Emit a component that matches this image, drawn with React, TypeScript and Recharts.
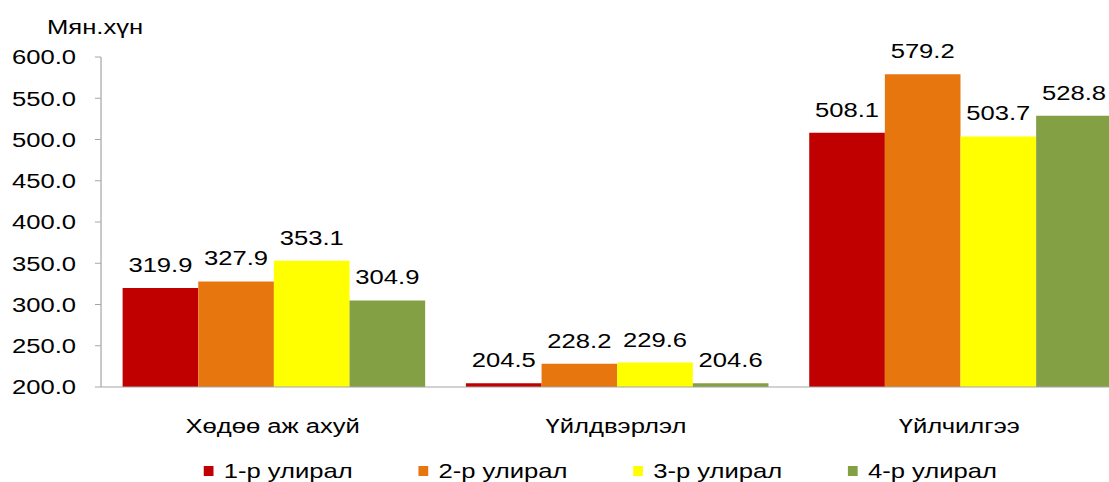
import { Bar, BarChart, LabelList, Legend, XAxis, YAxis } from "recharts";

const categories = ["Хөдөө аж ахуй", "Үйлдвэрлэл", "Үйлчилгээ"];
const seriesNames = ["1-р улирал", "2-р улирал", "3-р улирал", "4-р улирал"];
const q1 = [319.9, 204.5, 508.1];
const q2 = [327.9, 228.2, 579.2];
const q3 = [353.1, 229.6, 503.7];
const q4 = [304.9, 204.6, 528.8];
const yTicks = [200, 250, 300, 350, 400, 450, 500, 550, 600];
const unitLabel = "Мян.хүн";

const COLORS = ["#C00000", "#E8760F", "#FFFF00", "#84A044"];
const AXIS = "#A6A6A6";
const FONT = "'Liberation Sans', Arial, sans-serif";
// the source picture is stretched sideways, so the chart is drawn narrow and scaled
const STRETCH = 1.22;

const seriesKeys = ["q1", "q2", "q3", "q4"];
const data = categories.map((name, i) => ({
  name,
  q1: q1[i],
  q2: q2[i],
  q3: q3[i],
  q4: q4[i],
}));

const ValueLabel = (props: any) => {
  const { x, y, width, value } = props;
  return (
    <text x={x + width / 2} y={y - 16} textAnchor="middle" fontSize={21} fill="#000" fontFamily={FONT}>
      {Number(value).toFixed(1)}
    </text>
  );
};

const CategoryTick = (props: any) => {
  const { x, y, payload } = props;
  return (
    <text x={x} y={y + 46} textAnchor="middle" fontSize={21} fill="#000" fontFamily={FONT}>
      {payload.value}
    </text>
  );
};

const LegendRow = () => (
  <div style={{ height: 45, display: "flex", alignItems: "flex-end", paddingLeft: 167, fontFamily: FONT, fontSize: 21, lineHeight: "21px", color: "#000" }}>
    {seriesNames.map((n, i) => (
      <div key={n} style={{ width: 176, display: "flex", alignItems: "center", marginBottom: 1 }}>
        <span style={{ width: 8.2, height: 10, background: COLORS[i], marginRight: 8.2, display: "inline-block" }} />
        <span style={{ whiteSpace: "nowrap" }}>{n}</span>
      </div>
    ))}
  </div>
);

export default function App() {
  return (
    <div style={{ position: "absolute", left: 0, top: 0, width: 1109, height: 482, overflow: "hidden", background: "#fff" }}>
      <div style={{ width: 940, height: 482, transform: `scaleX(${STRETCH})`, transformOrigin: "0 0" }}>
        <BarChart
          width={940}
          height={482}
          data={data}
          margin={{ top: 57, right: 13, left: 0, bottom: 0 }}
          barGap={0}
          barCategoryGap={17.7}
        >
          <XAxis
            dataKey="name"
            height={50}
            axisLine={{ stroke: AXIS }}
            tickLine={false}
            tickSize={0}
            tickMargin={0}
            tick={<CategoryTick />}
            interval={0}
          />
          <YAxis
            width={82.8}
            domain={[200, 600]}
            ticks={yTicks}
            tickFormatter={(v: number) => v.toFixed(1)}
            axisLine={{ stroke: AXIS }}
            tickLine={{ stroke: AXIS }}
            tickSize={5}
            tickMargin={15.5}
            tick={{ fill: "#000", fontSize: 21, fontFamily: FONT }}
            label={{
              value: unitLabel,
              content: () => (
                <text x={38.5} y={34} fontSize={21} fill="#000" fontFamily={FONT}>
                  {unitLabel}
                </text>
              ),
            }}
          />
          <Legend verticalAlign="bottom" wrapperStyle={{ left: 0, width: 940 }} content={<LegendRow />} />
          {seriesKeys.map((k, i) => (
            <Bar key={k} dataKey={k} name={seriesNames[i]} fill={COLORS[i]} isAnimationActive={false}>
              <LabelList dataKey={k} content={<ValueLabel />} />
            </Bar>
          ))}
        </BarChart>
      </div>
    </div>
  );
}
